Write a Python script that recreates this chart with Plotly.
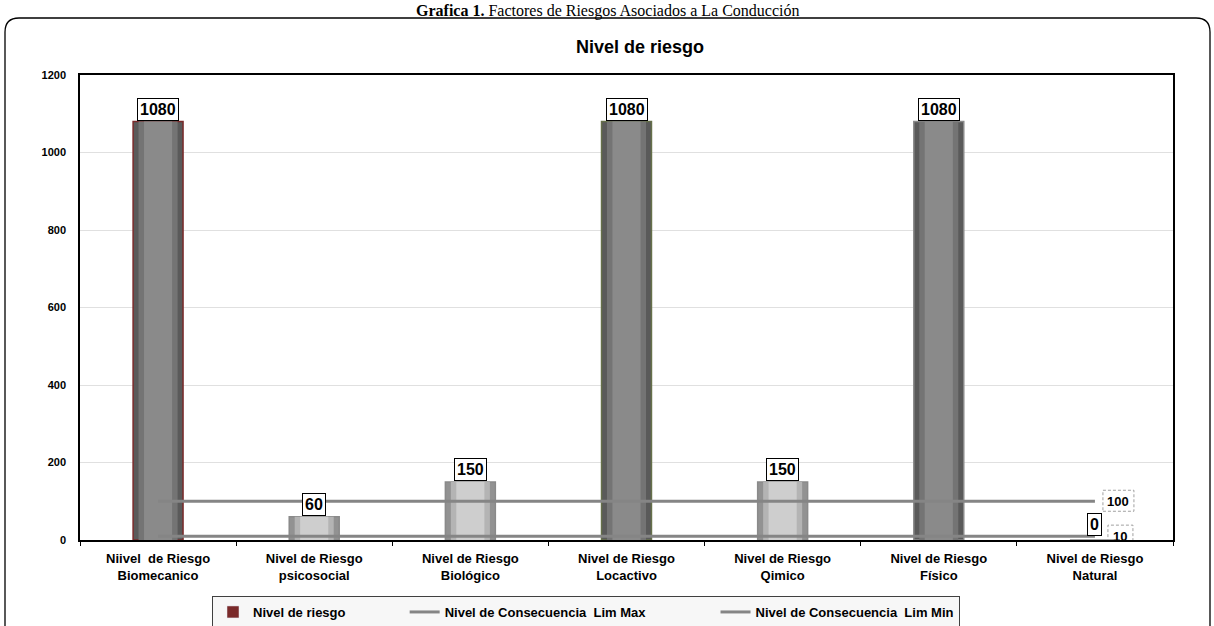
import plotly.graph_objects as go

categories = [
    "Niivel  de Riesgo<br>Biomecanico",
    "Nivel de Riesgo<br>psicosocial",
    "Nivel de Riesgo<br>Biológico",
    "Nivel de Riesgo<br>Locactivo",
    "Nivel de Riesgo<br>Qimico",
    "Nivel de Riesgo<br>Físico",
    "Nivel de Riesgo<br>Natural",
]
nivel_riesgo = [1080, 60, 150, 1080, 150, 1080, 0]
lim_max = [100, 100, 100, 100, 100, 100, 100]
lim_min = [10, 10, 10, 10, 10, 10, 10]
y_ticks = [0, 200, 400, 600, 800, 1000, 1200]

W, H = 1214, 626
L, R, T, B = 80, 1173, 75, 540


def px(x):
    return (x - L) / (R - L)


def py(y):
    return (B - y) / (B - T)


outer_colors = ["#5a5a5a" if v >= 500 else "#929292" for v in nivel_riesgo]
mid_colors = ["#747474" if v >= 500 else "#b4b4b4" for v in nivel_riesgo]
inner_colors = ["#8a8a8a" if v >= 500 else "#cecece" for v in nivel_riesgo]
outline = ["#7a2a2a", "#8a8a8a", "#8a8a8a", "#66704a", "#8a8a8a", "#8a8a8a", "#8a8a8a"]

fig = go.Figure()
fig.add_trace(go.Bar(
    x=categories, y=nivel_riesgo, width=0.32, showlegend=False,
    marker=dict(color=outer_colors, line=dict(color=outline, width=1.5)),
    hoverinfo="skip",
))
fig.add_trace(go.Bar(
    x=categories, y=nivel_riesgo, width=0.25, showlegend=False,
    marker=dict(color=mid_colors, line=dict(width=0)), hoverinfo="skip",
))
fig.add_trace(go.Bar(
    x=categories, y=nivel_riesgo, width=0.18, showlegend=False,
    marker=dict(color=inner_colors, line=dict(width=0)),
))
# legend entry for the bar series
fig.add_trace(go.Bar(
    x=[categories[0]], y=[None], name="Nivel de riesgo" + "\u00a0" * 15,
    marker=dict(color="#7a2a2a"),
))
fig.add_trace(go.Scatter(
    x=categories, y=lim_max, mode="lines",
    name="Nivel de Consecuencia  Lim Max" + "\u00a0" * 18,
    line=dict(color="#858585", width=3),
))
fig.add_trace(go.Scatter(
    x=categories, y=lim_min, mode="lines",
    name="Nivel de Consecuencia  Lim Min",
    line=dict(color="#858585", width=3),
))

annotations = []
shapes = []
for c, v in zip(categories, nivel_riesgo):
    annotations.append(dict(
        x=c, y=v, xref="x", yref="y", text=f"<b>{v}</b>", showarrow=False,
        yanchor="bottom", yshift=1 if v > 0 else 4,
        font=dict(family="Arial, Liberation Sans", size=16, color="black"),
        bgcolor="white", bordercolor="black", borderwidth=1, borderpad=2,
    ))

# labels at the end of the limit lines
for vals, xs in ((lim_max, 23), (lim_min, 25)):
    c, v = categories[-1], vals[-1]
    annotations.append(dict(
        x=c, y=v, xref="x", yref="y", text=f"<b>{v}</b>", showarrow=False,
        xshift=xs, font=dict(family="Arial, Liberation Sans", size=13, color="black"),
    ))
    half = 15 if v > 50 else 12
    shapes.append(dict(
        type="rect", xref="x", yref="y", xsizemode="pixel", ysizemode="pixel",
        xanchor=c, yanchor=v, x0=xs - half, x1=xs + half + 1,
        y0=-10, y1=11, line=dict(color="#a0a0a0", width=1, dash="3px,2px"),
        fillcolor="rgba(0,0,0,0)", layer="above",
    ))

# chart title and caption
annotations.append(dict(
    x=px(640), y=py(47), xref="paper", yref="paper", yanchor="middle",
    text="<b>Nivel de riesgo</b>",
    showarrow=False, font=dict(family="Arial, Liberation Sans", size=18, color="black"),
))
annotations.append(dict(
    x=px(607), y=py(0), xref="paper", yref="paper", yanchor="top",
    text="<b>Grafica 1.</b> Factores de Riesgos Asociados a La Conducción",
    showarrow=False, font=dict(family="Times New Roman, Liberation Serif", size=16, color="black"),
))

# rounded outer frame
x0, x1, y0, y1 = px(5), px(1210), py(18), py(660)
rx, ry = 14 / (R - L), 14 / (B - T)
path = (f"M {x0},{y1} L {x0},{y0 - ry} Q {x0},{y0} {x0 + rx},{y0} "
        f"L {x1 - rx},{y0} Q {x1},{y0} {x1},{y0 - ry} L {x1},{y1}")
shapes.append(dict(type="path", xref="paper", yref="paper", path=path,
                   line=dict(color="black", width=1.3), layer="below"))

fig.update_layout(
    width=W, height=H,
    margin=dict(l=L, r=W - R, t=T, b=H - B, autoexpand=False),
    paper_bgcolor="white", plot_bgcolor="white",
    barmode="overlay", bargap=0.68,
    annotations=annotations, shapes=shapes,
    font=dict(family="Arial, Liberation Sans", color="black"),
    legend=dict(
        orientation="h", x=px(212), xanchor="left", y=py(596), yanchor="top",
        bgcolor="#f7f7f7", bordercolor="#404040", borderwidth=1,
        font=dict(family="Arial, Liberation Sans", size=13, color="black", weight="bold"),
        itemwidth=30, tracegroupgap=0,
    ),
)
fig.update_yaxes(
    range=[0, 1200], tickvals=y_ticks, ticktext=[f"<b>{t}</b>" for t in y_ticks],
    tickfont=dict(size=11), showgrid=True, gridcolor="#e0e0e0", gridwidth=1,
    showline=True, linecolor="black", linewidth=1.5, mirror=True,
    ticks="", zeroline=False, ticklabelstandoff=10, automargin=False,
)
fig.update_xaxes(
    tickvals=categories, ticktext=[f"<b>{c}</b>" for c in categories],
    tickfont=dict(size=13), showline=True, linecolor="black", linewidth=1.5,
    mirror=True, ticks="outside", ticklen=4, tickcolor="black", tickson="boundaries",
    showgrid=False, ticklabelstandoff=6, automargin=False,
)

fig.write_html(
    "out.html",
    config={"displayModeBar": False},
    post_script="document.body.style.margin='0';document.body.style.overflow='hidden';",
)
